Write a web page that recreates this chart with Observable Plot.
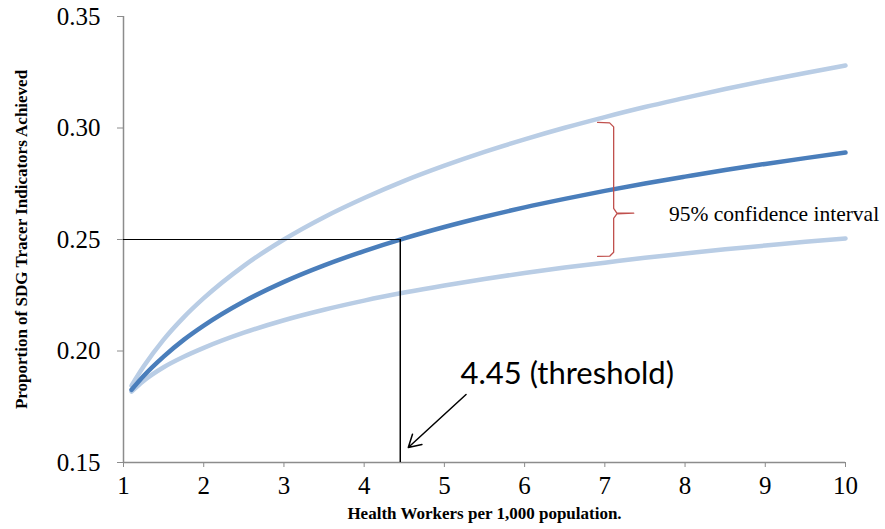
<!DOCTYPE html>
<html>
<head>
<meta charset="utf-8">
<script src="https://cdn.jsdelivr.net/npm/d3@7"></script>
<script src="https://cdn.jsdelivr.net/npm/@observablehq/plot@0.6"></script>
<style>
  html, body { margin: 0; padding: 0; background: #fff; }
  #chart svg { display: block; }
  #chart g[aria-label$="tick label"] text { font-family: "Liberation Serif", "Times New Roman", serif !important; font-size: 25px !important; }
  #chart .serif-text text { font-family: "Liberation Serif", "Times New Roman", serif !important; }
</style>
</head>
<body>
<div id="chart"></div>
<script>
// Health workers per 1,000 population (x)
const workers = [1.1, 1.25, 1.5, 1.75, 2, 2.5, 3, 3.5, 4, 4.5, 5, 5.5, 6, 6.5, 7, 7.5, 8, 8.5, 9, 9.5, 10];
// Estimated proportion of SDG tracer indicators achieved
const estimate = [0.1826, 0.1888, 0.1975, 0.2050, 0.2114, 0.2222, 0.2310, 0.2384, 0.2448, 0.2505, 0.2556, 0.2602, 0.2644, 0.2682, 0.2718, 0.2751, 0.2782, 0.2812, 0.2839, 0.2865, 0.2890];
const upperCI  = [0.1845, 0.1930, 0.2051, 0.2151, 0.2237, 0.2382, 0.2500, 0.2600, 0.2686, 0.2763, 0.2831, 0.2893, 0.2949, 0.3001, 0.3049, 0.3094, 0.3135, 0.3175, 0.3212, 0.3247, 0.3280];
const lowerCI  = [0.1818, 0.1866, 0.1927, 0.1974, 0.2014, 0.2082, 0.2138, 0.2185, 0.2226, 0.2262, 0.2294, 0.2323, 0.2350, 0.2374, 0.2396, 0.2418, 0.2437, 0.2456, 0.2473, 0.2490, 0.2505];

// Axis ticks
const xTicks = [1, 2, 3, 4, 5, 6, 7, 8, 9, 10];
const yTicks = [0.15, 0.20, 0.25, 0.30, 0.35];

// Threshold annotation
const thresholdX = 4.45;
const thresholdY = 0.25;
const thresholdLabel = "4.45 (threshold)";
const arrowFrom = [5.27, 0.1805];
const arrowTo = [4.55, 0.1567];
const labelPos = [5.2, 0.1895];

// Confidence-interval brace (x, y in data units)
const braceX = [6.91, 7.06, 7.11, 7.11, 7.15, 7.36, 7.15, 7.11, 7.11, 7.06, 6.91];
const braceY = [0.3025, 0.3023, 0.3005, 0.2640, 0.2618, 0.2618, 0.2615, 0.2595, 0.2443, 0.2425, 0.2424];
const ciLabel = "95% confidence interval";
const ciLabelPos = [7.8, 0.2612];

const xLabel = "Health Workers per 1,000 population.";
const yLabel = "Proportion of SDG Tracer Indicators Achieved";

const rows = workers.map((w, i) => ({x: w, est: estimate[i], up: upperCI[i], lo: lowerCI[i]}));
const brace = braceX.map((x, i) => ({x, y: braceY[i]}));

const axisColor = "#8c8c8c";
const serif = "Liberation Serif, Times New Roman, serif";

const chart = Plot.plot({
  width: 885,
  height: 529,
  marginLeft: 123,
  marginRight: 40,
  marginTop: 16,
  marginBottom: 67,
  style: {background: "#fff"},
  x: {domain: [1, 10]},
  y: {domain: [0.15, 0.35]},
  marks: [
    Plot.axisY({ticks: yTicks, tickFormat: d3.format(".2f"), tickSize: 6, tickPadding: 17, stroke: axisColor, color: "#000", label: null}),
    Plot.axisX({ticks: xTicks, tickFormat: d3.format("d"), tickSize: 5, tickPadding: 9, stroke: axisColor, color: "#000", label: null}),
    Plot.ruleX([1], {stroke: axisColor, strokeWidth: 1.5}),
    Plot.ruleY([0.15], {stroke: axisColor, strokeWidth: 1.5}),
    Plot.line(rows, {x: "x", y: "up", stroke: "#b9cde5", strokeWidth: 4.5, curve: "monotone-x"}),
    Plot.line(rows, {x: "x", y: "lo", stroke: "#b9cde5", strokeWidth: 4.5, curve: "monotone-x"}),
    Plot.line(rows, {x: "x", y: "est", stroke: "#4a7ebb", strokeWidth: 4.5, curve: "monotone-x"}),
    Plot.ruleY([thresholdY], {x1: 1, x2: thresholdX, stroke: "#000", strokeWidth: 1.2}),
    Plot.ruleX([thresholdX], {y1: 0.15, y2: thresholdY, stroke: "#000", strokeWidth: 1.5}),
    Plot.arrow([0], {x1: () => arrowFrom[0], y1: () => arrowFrom[1], x2: () => arrowTo[0], y2: () => arrowTo[1], stroke: "#000", strokeWidth: 1.5, headLength: 14, bend: 0}),
    Plot.text([thresholdLabel], {x: () => labelPos[0], y: () => labelPos[1], text: d => d, textAnchor: "start", fontSize: 31, fontFamily: "Lato, Open Sans, sans-serif", fill: "#000"}),
    Plot.line(brace, {x: "x", y: "y", stroke: "#c0504d", strokeWidth: 1.3, curve: "linear"}),
    Plot.text([ciLabel], {x: () => ciLabelPos[0], y: () => ciLabelPos[1], text: d => d, textAnchor: "start", fontSize: 21.5, fontFamily: serif, fill: "#000", className: "serif-text"}),
    Plot.text([xLabel], {frameAnchor: "bottom", dy: 56, text: d => d, fontSize: 17, fontWeight: "bold", fontFamily: serif, fill: "#000", className: "serif-text"}),
    Plot.text([yLabel], {frameAnchor: "left", dx: -102, rotate: -90, textAnchor: "middle", text: d => d, fontSize: 17, fontWeight: "bold", fontFamily: serif, fill: "#000", className: "serif-text"})
  ]
});
document.getElementById("chart").appendChild(chart);
</script>
</body>
</html>
